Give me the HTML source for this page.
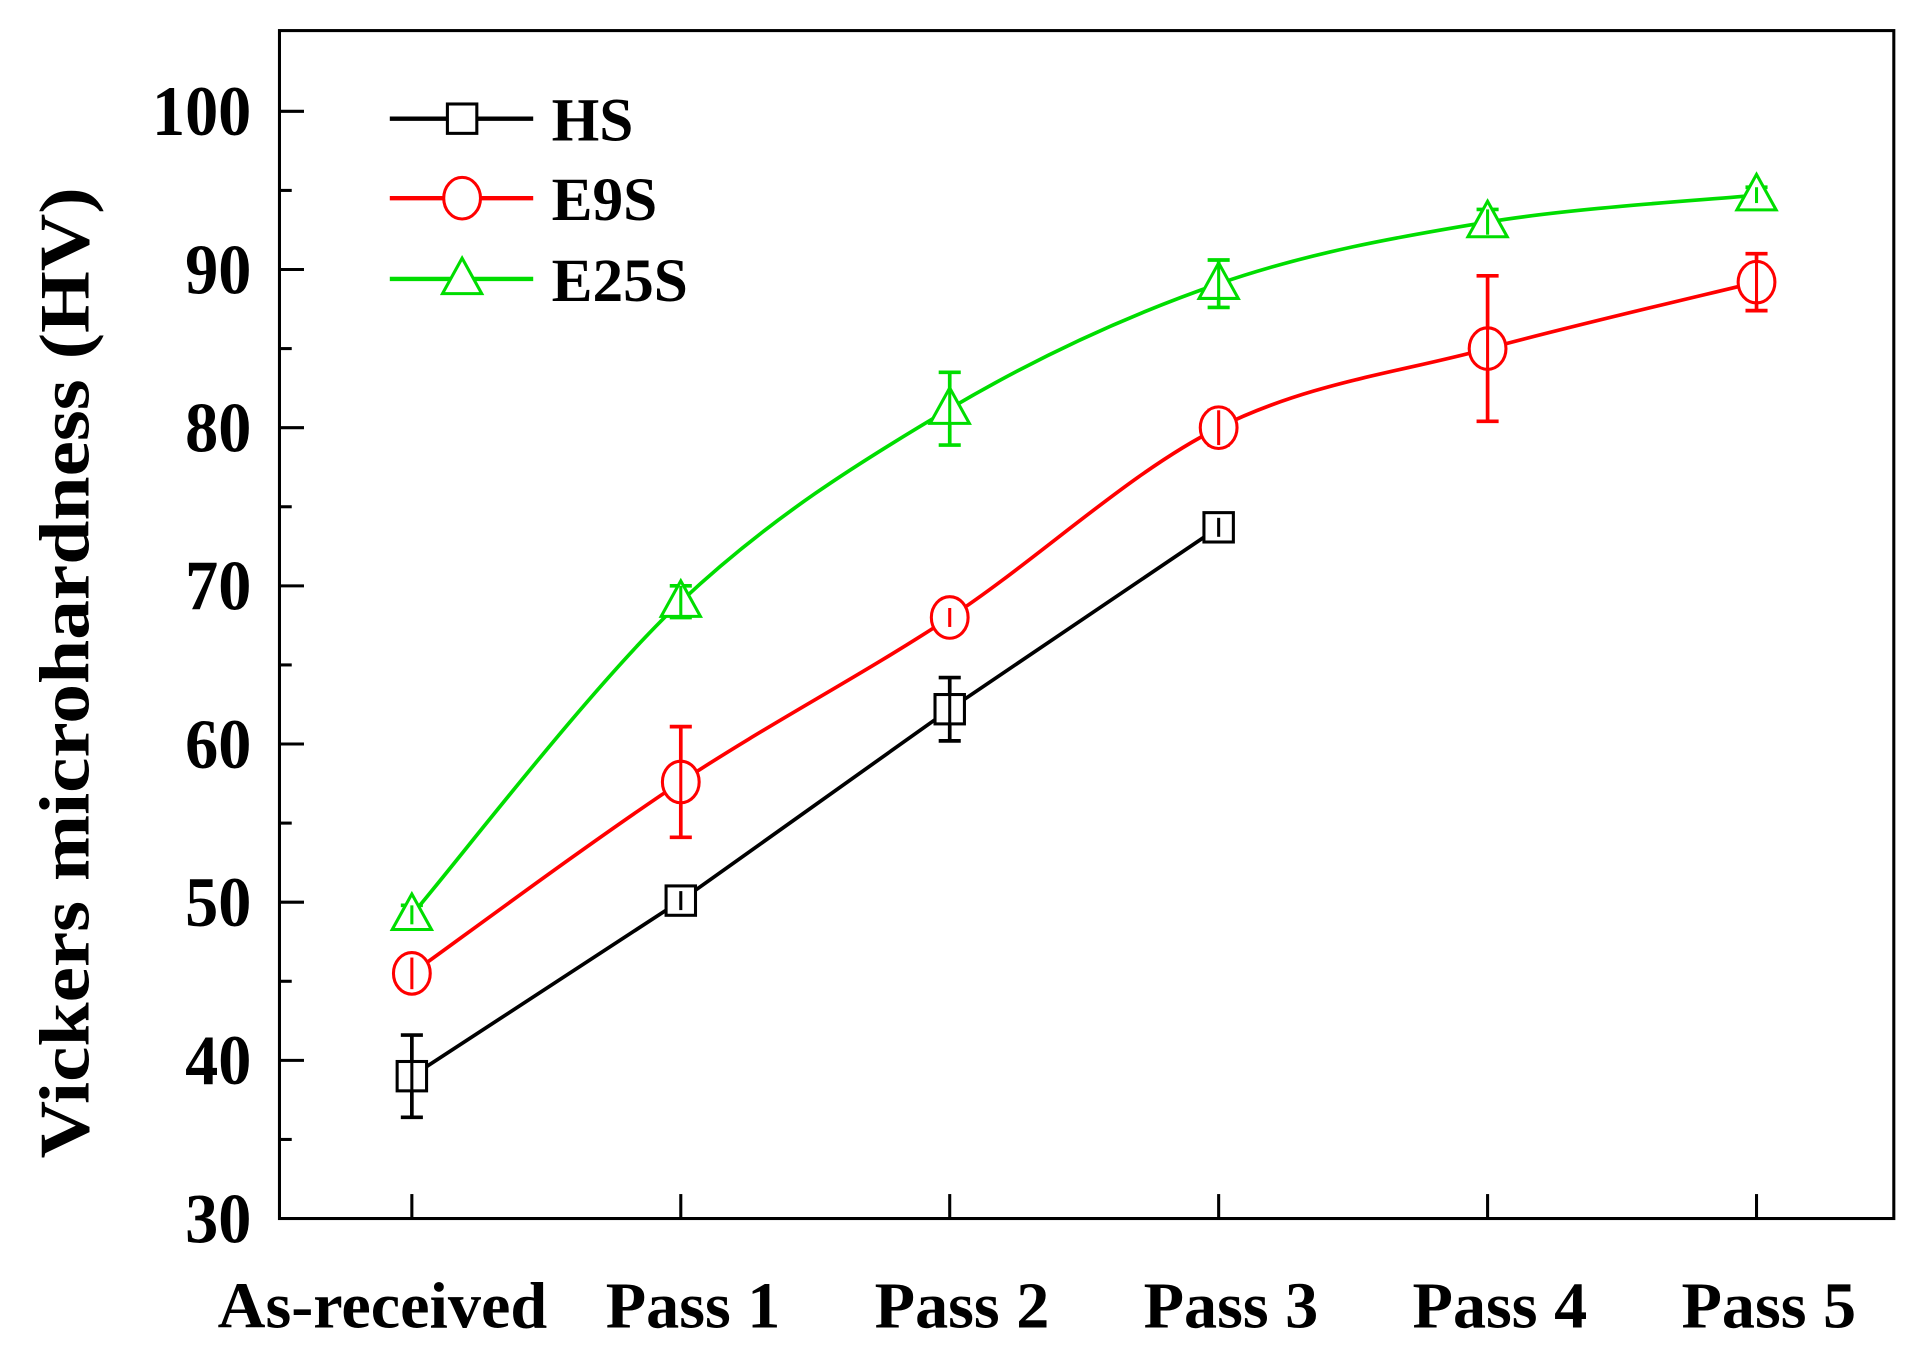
<!DOCTYPE html>
<html><head><meta charset="utf-8"><style>html,body{margin:0;padding:0;background:#fff}svg{display:block}</style></head>
<body>
<svg width="1922" height="1358" viewBox="0 0 1568 1110" preserveAspectRatio="none" xmlns="http://www.w3.org/2000/svg" font-family="Liberation Serif, serif" font-weight="bold">
<g id="axes"></g>
<g id="series"></g>
<g id="legend"></g>
</svg>
<script>
const categories = ["As-received","Pass 1","Pass 2","Pass 3","Pass 4","Pass 5"];
const yTicks = [30,40,50,60,70,80,90,100];
const hsValues = [39, 50.1, 62.2, 73.7];
const hsErrors = [2.6, 0.6, 2.0, 0.6];
const e9sValues = [45.5, 57.6, 68.0, 80.0, 85.0, 89.2];
const e9sErrors = [1.0, 3.5, 0.6, 1.1, 4.6, 1.8];
const e25sValues = [49.2, 69.0, 81.2, 89.1, 93.0, 94.7];
const e25sErrors = [0.6, 1.0, 2.3, 1.5, 0.8, 0.5];

const NS = "http://www.w3.org/2000/svg";
const L=228,R=1545,T=25,B=996;
const xPos = i => 336 + i*219.4;
const yPos = v => 996 - (v-30)*(905/70);
function mk(tag, attrs, parent){const e=document.createElementNS(NS,tag);for(const k in attrs)e.setAttribute(k,attrs[k]);parent.appendChild(e);return e;}
const axes=document.getElementById('axes');
const frame=mk('rect',{x:L,y:T,width:R-L,height:B-T,fill:'none',stroke:'#000','stroke-width':2.5},axes);


yTicks.forEach(v=>{
  const y=yPos(v);
  const t=mk('line',{x1:L,x2:L+20,y1:y,y2:y,stroke:'#000','stroke-width':2.5},axes);
  
  
  if(v<100){const m=mk('line',{x1:L,x2:L+10,y1:yPos(v+5),y2:yPos(v+5),stroke:'#000','stroke-width':2.5},axes);
  
  }
  const tx=mk('text',{x:205,y:y+18,'text-anchor':'end','font-size':54,transform:`translate(205 ${y}) scale(1,1.08) translate(-205 ${-y})`},axes);tx.textContent=v;
  
  
});
categories.forEach((c,i)=>{
  const x=xPos(i);
  const t=mk('line',{x1:x,x2:x,y1:B,y2:B-20,stroke:'#000','stroke-width':2.5},axes);
  
  
  const tx=mk('text',{x:i==0?x-24:x+10,y:1085,'text-anchor':'middle','font-size':54},axes);tx.textContent=c;
  
  
});
const yt=mk('text',{x:72,y:550,'text-anchor':'middle','font-size':58,transform:'rotate(-90 72 550) scale(1.12,1) translate(-7.7 0)'},axes);
yt.textContent='Vickers microhardness (HV)';



function smoothPath(pts){
  let d=`M${pts[0][0]},${pts[0][1]}`;
  for(let i=0;i<pts.length-1;i++){
    const p0=pts[i-1]||pts[i],p1=pts[i],p2=pts[i+1],p3=pts[i+2]||p2;
    const c1=[p1[0]+(p2[0]-p0[0])/6,p1[1]+(p2[1]-p0[1])/6];
    const c2=[p2[0]-(p3[0]-p1[0])/6,p2[1]-(p3[1]-p1[1])/6];
    d+=` C${c1[0]},${c1[1]} ${c2[0]},${c2[1]} ${p2[0]},${p2[1]}`;
  }
  return d;
}
function marker(type,x,y,color,g){
  let e;
  if(type==='sq') e=mk('rect',{x:x-12,y:y-12,width:24,height:24,fill:'#fff',stroke:color,'stroke-width':2.5},g);
  else if(type==='ci') e=mk('ellipse',{cx:x,cy:y,rx:15,ry:17,fill:'#fff',stroke:color,'stroke-width':2.5},g);
  else e=mk('polygon',{points:`${x},${y-17} ${x-16},${y+12} ${x+16},${y+12}`,fill:'#fff',stroke:color,'stroke-width':2.5},g);
  return e;
}
const seriesG=document.getElementById('series');
function drawSeries(name,vals,errs,color,type,smooth){
  const g=mk('g',{},seriesG);
  
  
  const pts=vals.map((v,i)=>[xPos(i),yPos(v)]);
  const p=mk('path',{d:smooth?smoothPath(pts):'M'+pts.map(q=>q.join(',')).join(' L'),fill:'none',stroke:color,'stroke-width':3},g);
  
  
  vals.forEach((v,i)=>{
    const x=xPos(i),y1=yPos(v+errs[i]),y2=yPos(v-errs[i]);
    const eb=mk('path',{d:`M${x},${y1} V${y2} M${x-9},${y1} H${x+9} M${x-9},${y2} H${x+9}`,stroke:color,'stroke-width':3,fill:'none'},g);
    
    
    const m=marker(type,x,yPos(v),color,g);
    
    
    mk('line',{x1:x,x2:x,y1:y1,y2:y2,stroke:color,'stroke-width':2.5},g);
  });
}
drawSeries('hs',hsValues,hsErrors,'#000','sq',false);
drawSeries('e9s',e9sValues,e9sErrors,'#f00','ci',true);
drawSeries('e25s',e25sValues,e25sErrors,'#0d0','tr',true);

const lg=document.getElementById('legend');
[['HS','#000','sq',97],['E9S','#f00','ci',162],['E25S','#0d0','tr',228]].forEach(([n,c,t,y])=>{
  const g=mk('g',{},lg);
  
  
  mk('line',{x1:318,x2:435,y1:y,y2:y,stroke:c,'stroke-width':3.5},g);
  marker(t,377,y,c,g);
  const tx=mk('text',{x:450,y:y+18,'font-size':50},g);tx.textContent=n;
});
</script>
</body></html>
